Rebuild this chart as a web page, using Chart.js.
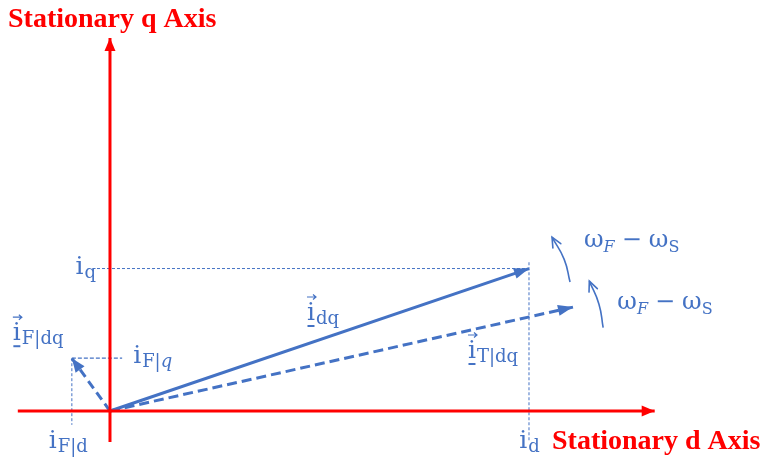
<!DOCTYPE html>
<html>
<head>
<meta charset="utf-8">
<script src="https://cdn.jsdelivr.net/npm/chart.js@4/dist/chart.umd.min.js"></script>
<style>
  html, body { margin: 0; padding: 0; background: #fff; }
  #wrap { width: 763px; height: 461px; }
</style>
</head>
<body>
<div id="wrap"><canvas id="c" width="763" height="461"></canvas></div>
<script>
// Current components in the stationary d/q frame
const currentD = 10.0;            // i_d
const currentQ = 3.4;             // i_q
const torqueVec = [11.05, 2.48];  // i_T|dq  (d, q)
const fieldVec = [-0.91, 1.26];   // i_F|dq  (d, q)

// Axis extents (d axis left/right, q axis bottom/top)
const dAxisRange = [-2.2, 13.0];
const qAxisRange = [-0.74, 8.9];

// Projection guide extents
const qGuideStart = -0.31;
const dGuideRange = [3.55, -0.7];
const fieldGuideQEnd = 0.29;
const fieldGuideDEnd = -0.33;

// Rotation arrows (bottom, middle, tip)
const rotArcOuter = [[10.98, 3.08], [10.84, 3.62], [10.55, 4.15]];
const rotArcInner = [[11.77, 1.99], [11.67, 2.55], [11.44, 3.10]];

// View window
const viewX = [-2.625, 15.585];
const viewY = [-1.193, 9.809];

const RED = '#ff0000';
const BLUE = '#4472c4';
const TITLE_FONT = '"Liberation Serif", "Times New Roman", serif';
const MATH_FONT = '"DejaVu Serif", "Liberation Serif", serif';

const pts = arr => arr.map(p => ({ x: p[0], y: p[1] }));

function seg(data, color, width, opts) {
  return Object.assign({
    data: data, borderColor: color, backgroundColor: color, borderWidth: width,
    showLine: true, pointRadius: 0, pointHoverRadius: 0, fill: false, tension: 0
  }, opts || {});
}

const datasets = [
  seg([{ x: 0, y: qAxisRange[0] }, { x: 0, y: qAxisRange[1] }], RED, 3, { arrow: 'filled', head: [13, 11] }),
  seg([{ x: dAxisRange[0], y: 0 }, { x: dAxisRange[1], y: 0 }], RED, 3, { arrow: 'filled', head: [13, 11] }),
  seg([{ x: qGuideStart, y: currentQ }, { x: currentD, y: currentQ }], BLUE, 1, { borderDash: [3, 2] }),
  seg([{ x: currentD, y: dGuideRange[0] }, { x: currentD, y: dGuideRange[1] }], BLUE, 1, { borderDash: [3, 2] }),
  seg([{ x: fieldVec[0], y: fieldVec[1] }, { x: fieldGuideQEnd, y: fieldVec[1] }], BLUE, 1.2, { borderDash: [4, 2] }),
  seg([{ x: fieldVec[0], y: fieldVec[1] }, { x: fieldVec[0], y: fieldGuideDEnd }], BLUE, 1, { borderDash: [3, 2] }),
  seg([{ x: 0, y: 0 }, { x: currentD, y: currentQ }], BLUE, 3, { arrow: 'filled', head: [15, 11] }),
  seg([{ x: 0, y: 0 }, { x: torqueVec[0], y: torqueVec[1] }], BLUE, 3, { borderDash: [10, 5], arrow: 'filled', head: [15, 11] }),
  seg([{ x: 0, y: 0 }, { x: fieldVec[0], y: fieldVec[1] }], BLUE, 3, { borderDash: [9, 5], arrow: 'filled', head: [14, 11] }),
  seg(pts(rotArcOuter), BLUE, 1.6, { tension: 0.5, arrow: 'open', head: [10, 9] }),
  seg(pts(rotArcInner), BLUE, 1.6, { tension: 0.5, arrow: 'open', head: [10, 9] })
];

// Arrowheads at the last point of flagged datasets
const arrowHeads = {
  id: 'arrowHeads',
  afterDatasetsDraw(chart) {
    const ctx = chart.ctx;
    chart.data.datasets.forEach((ds, i) => {
      if (!ds.arrow) return;
      const p = chart.getDatasetMeta(i).data;
      const end = p[p.length - 1];
      let fx, fy;
      if (ds.tension && end.cp1x !== undefined) { fx = end.cp1x; fy = end.cp1y; }
      else { fx = p[p.length - 2].x; fy = p[p.length - 2].y; }
      const ang = Math.atan2(end.y - fy, end.x - fx);
      const len = ds.head[0], half = ds.head[1] / 2;
      ctx.save();
      ctx.translate(end.x, end.y);
      ctx.rotate(ang);
      ctx.setLineDash([]);
      if (ds.arrow === 'filled') {
        ctx.fillStyle = ds.borderColor;
        ctx.beginPath();
        ctx.moveTo(0, 0);
        ctx.lineTo(-len, -half);
        ctx.lineTo(-len, half);
        ctx.closePath();
        ctx.fill();
      } else {
        ctx.strokeStyle = ds.borderColor;
        ctx.lineWidth = ds.borderWidth;
        ctx.lineCap = 'round';
        ctx.beginPath();
        ctx.moveTo(-len, -half);
        ctx.lineTo(0, 0);
        ctx.lineTo(-len, half);
        ctx.stroke();
      }
      ctx.restore();
    });
  }
};

const MAIN = 25, SUB = 18;

// Symbol "i" with a subscript made of [text, italic] parts, optional vector marks
function drawSym(ctx, x, y, subParts, o) {
  o = o || {};
  ctx.fillStyle = BLUE;
  ctx.textBaseline = 'alphabetic';
  ctx.textAlign = 'left';
  ctx.font = MAIN + 'px ' + MATH_FONT;
  const mw = ctx.measureText('i').width;
  let sw = 0;
  subParts.forEach(p => {
    ctx.font = (p[1] ? 'italic ' : '') + SUB + 'px ' + MATH_FONT;
    sw += ctx.measureText(p[0]).width;
  });
  let x0 = x;
  if (o.align === 'right') x0 = x - mw - sw;
  if (o.align === 'center') x0 = x - (mw + sw) / 2;
  ctx.font = MAIN + 'px ' + MATH_FONT;
  ctx.fillText('i', x0, y);
  if (o.vector) {
    ctx.strokeStyle = BLUE;
    ctx.lineWidth = 1.2;
    const cx = x0 + mw / 2;
    const ty = y - 23;
    ctx.beginPath();
    ctx.moveTo(cx - 4, ty); ctx.lineTo(cx + 5, ty);
    ctx.moveTo(cx + 2, ty - 2.5); ctx.lineTo(cx + 5, ty); ctx.lineTo(cx + 2, ty + 2.5);
    ctx.stroke();
    ctx.lineWidth = 2;
    ctx.beginPath();
    ctx.moveTo(x0 + 0.5, y + 6); ctx.lineTo(x0 + mw - 0.5, y + 6);
    ctx.stroke();
  }
  let cx = x0 + mw + 1;
  subParts.forEach(p => {
    ctx.font = (p[1] ? 'italic ' : '') + SUB + 'px ' + MATH_FONT;
    ctx.fillText(p[0], cx, y + 4);
    cx += ctx.measureText(p[0]).width;
  });
}

// Slip frequency caption  ω_F − ω_S
function drawSlip(ctx, x, y) {
  let cx = x;
  ctx.fillStyle = BLUE;
  ctx.textBaseline = 'alphabetic';
  ctx.textAlign = 'left';
  ctx.font = '24px ' + MATH_FONT;
  ctx.fillText('ω', cx, y); cx += ctx.measureText('ω').width;
  ctx.font = 'italic 16px ' + MATH_FONT;
  ctx.fillText('F', cx, y + 5); cx += ctx.measureText('F').width + 7;
  ctx.font = '24px ' + MATH_FONT;
  ctx.fillText('−', cx, y); cx += ctx.measureText('−').width + 7;
  ctx.fillText('ω', cx, y); cx += ctx.measureText('ω').width;
  ctx.font = '16px ' + MATH_FONT;
  ctx.fillText('S', cx, y + 5);
}

const labels = {
  id: 'labels',
  afterDatasetsDraw(chart) {
    const ctx = chart.ctx;
    const sx = chart.scales.x, sy = chart.scales.y;
    const X = v => sx.getPixelForValue(v), Y = v => sy.getPixelForValue(v);
    ctx.save();
    // axis captions
    ctx.fillStyle = RED;
    ctx.font = 'bold 28px ' + TITLE_FONT;
    ctx.textBaseline = 'alphabetic';
    ctx.textAlign = 'left';
    ctx.fillText('Stationary q Axis', X(0) - 102, Y(qAxisRange[1]) - 11);
    ctx.fillText('Stationary d Axis', X(currentD) + 23, Y(0) + 38);

    // component labels
    drawSym(ctx, X(qGuideStart) - 2, Y(currentQ) + 5, [['q', false]], { align: 'right' });
    drawSym(ctx, X(currentD), Y(0) + 37, [['d', false]], { align: 'center' });
    drawSym(ctx, X(fieldVec[0]) - 4, Y(0) + 37, [['F|d', false]], { align: 'center' });
    drawSym(ctx, X(fieldGuideQEnd) + 11, Y(fieldVec[1]) + 5, [['F|', false], ['q', true]]);
    drawSym(ctx, X(fieldVec[0]) - 59, Y(fieldVec[1]) - 18, [['F|dq', false]], { vector: true });
    drawSym(ctx, X(0) + 197, Y(0) - 91, [['dq', false]], { vector: true });
    drawSym(ctx, X(0) + 358, Y(0) - 53, [['T|dq', false]], { vector: true });

    // slip frequency captions
    const a = rotArcOuter[2], b = rotArcInner[2];
    drawSlip(ctx, X(a[0]) + 32, Y(a[1]) + 10);
    drawSlip(ctx, X(b[0]) + 28, Y(b[1]) + 28);
    ctx.restore();
  }
};

new Chart(document.getElementById('c'), {
  type: 'scatter',
  data: { datasets: datasets },
  options: {
    responsive: false,
    animation: false,
    events: [],
    layout: { padding: 0 },
    plugins: { legend: { display: false }, tooltip: { enabled: false }, title: { display: false } },
    scales: {
      x: { type: 'linear', min: viewX[0], max: viewX[1], display: false },
      y: { type: 'linear', min: viewY[0], max: viewY[1], display: false }
    }
  },
  plugins: [arrowHeads, labels]
});
</script>
</body>
</html>
